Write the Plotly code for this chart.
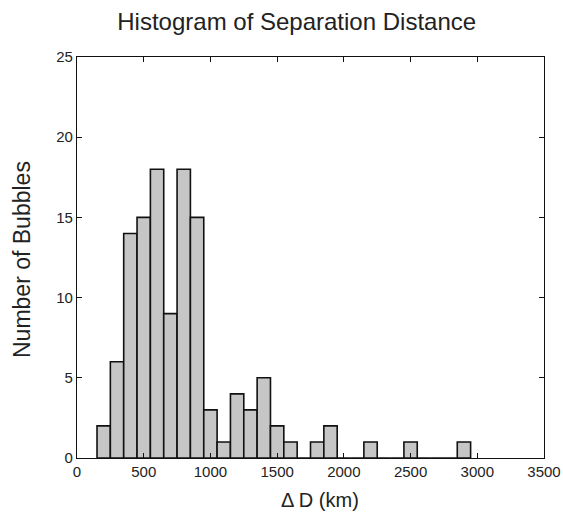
import plotly.graph_objects as go

bin_centers = [200, 300, 400, 500, 600, 700, 800, 900, 1000, 1100, 1200, 1300, 1400,
               1500, 1600, 1700, 1800, 1900, 2000, 2100, 2200, 2300, 2400, 2500,
               2600, 2700, 2800, 2900]
counts = [2, 6, 14, 15, 18, 9, 18, 15, 3, 1, 4, 3, 5,
          2, 1, 0, 1, 2, 0, 0, 1, 0, 0, 1,
          0, 0, 0, 1]
x_ticks = [0, 500, 1000, 1500, 2000, 2500, 3000, 3500]
y_ticks = [0, 5, 10, 15, 20, 25]

FONT = "Liberation Sans, Arial, sans-serif"

fig = go.Figure(go.Bar(
    x=bin_centers, y=counts, width=100,
    marker=dict(color="#c6c6c6", line=dict(color="#111", width=1.6)),
))

axis_common = dict(showline=True, linecolor="#111", linewidth=1.3, mirror="ticks",
                   ticks="inside", ticklen=5, tickcolor="#111", showgrid=False,
                   zeroline=False, automargin=False,
                   tickfont=dict(family=FONT, size=15, color="#222"))

fig.update_layout(
    width=563, height=524,
    margin=dict(l=77, r=19, t=57, b=66, autoexpand=False),
    paper_bgcolor="white", plot_bgcolor="white",
    showlegend=False,
    title=dict(text="Histogram of Separation Distance", x=0.527, xanchor="center",
               y=0.958, yanchor="middle",
               font=dict(family=FONT, size=24, color="#222")),
    xaxis=dict(range=[0, 3500], tickvals=x_ticks, **axis_common),
    yaxis=dict(range=[0, 25], tickvals=y_ticks, **axis_common),
    annotations=[
        dict(text="Δ D (km)", xref="paper", yref="paper", x=(320 - 77) / (544 - 77),
             y=-(500 - 458) / (458 - 57), xanchor="center", yanchor="middle",
             showarrow=False, font=dict(family=FONT, size=20, color="#222")),
        dict(text="Number of Bubbles", xref="paper", yref="paper", x=-(77 - 22) / (544 - 77),
             y=(458 - 260) / (458 - 57), xanchor="center", yanchor="middle", textangle=-90,
             showarrow=False, font=dict(family=FONT, size=23, color="#222")),
    ],
)

fig.write_html("out.html")
